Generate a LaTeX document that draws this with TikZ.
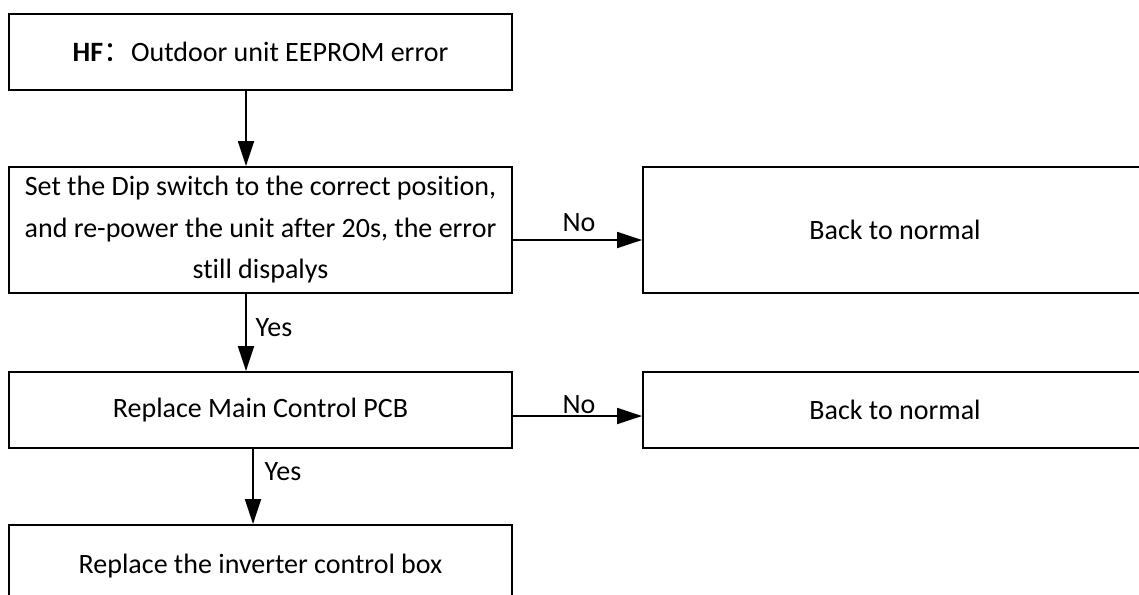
\documentclass[tikz,border=0pt]{standalone}
\usepackage{fontspec}
\setmainfont[Ligatures={NoCommon}]{Carlito}
\newfontfamily\cjk{Noto Sans CJK SC}
\usetikzlibrary{arrows.meta}
\begin{document}
\begin{tikzpicture}[x=1pt,y=-1pt,
  box/.style={draw, line width=1.8pt, inner sep=0pt, align=center,
    font=\fontsize{28}{41.5}\selectfont},
  conn/.style={line width=1.8pt, -{Triangle[length=25pt,width=16pt]}},
  lbl/.style={font=\fontsize{28}{32}\selectfont, inner sep=0pt}]
\useasboundingbox (0,0) rectangle (1139,594);
\node[box, minimum width=503pt, minimum height=76pt] (b1) at (260.5,52)
  {\textbf{HF}{\cjk ：}Outdoor unit EEPROM error};
\node[box, minimum width=503pt, minimum height=126pt] (b2) at (260.5,230)
  {Set the Dip switch to the correct position,\\and re-power the unit after 20s, the error\\still dispalys};
\node[box, minimum width=504pt, minimum height=126pt] (b3) at (895,230) {Back to normal};
\node[box, minimum width=503pt, minimum height=76pt] (b4) at (260.5,410) {Replace Main Control PCB};
\node[box, minimum width=504pt, minimum height=76pt] (b5) at (895,410) {Back to normal};
\node[box, minimum width=503pt, minimum height=82pt] (b6) at (260.5,566) {Replace the inverter control box};

\draw[conn] (246,0 |- b1.south) -- (246,0 |- b2.north);
\draw[conn] ([yshift=-10pt]b2.east) -- ([yshift=-10pt]b2.east -| b3.west);
\draw[conn] (246,0 |- b2.south) -- (246,0 |- b4.north);
\draw[conn] ([yshift=-6pt]b4.east) -- ([yshift=-6pt]b4.east -| b5.west);
\draw[conn] (253,0 |- b4.south) -- (253,0 |- b6.north);

\node[lbl] (no1) at (579,223) {No};
\node[lbl] (yes1) at (274,328) {Yes};
\node[lbl] (no2) at (579,405) {No};
\node[lbl] (yes2) at (283,472) {Yes};
\end{tikzpicture}
\end{document}
